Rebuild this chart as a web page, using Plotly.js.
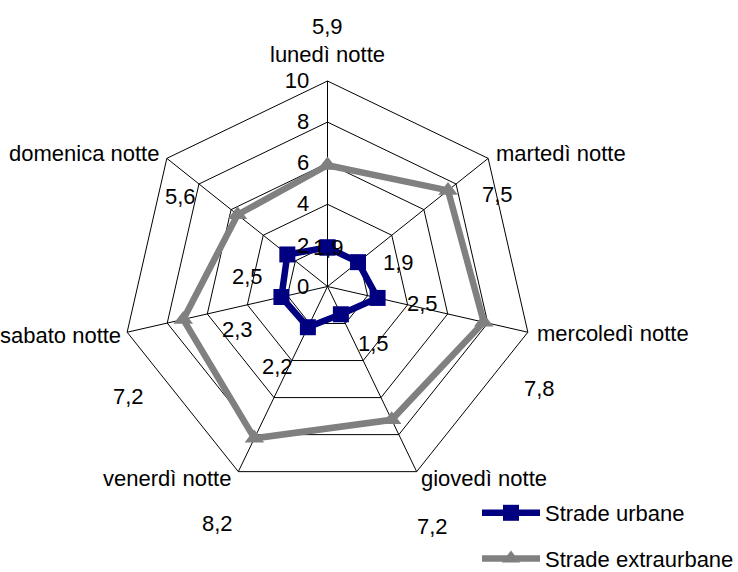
<!DOCTYPE html>
<html>
<head>
<meta charset="utf-8">
<script src="https://cdn.plot.ly/plotly-3.0.1.min.js"></script>
<style>html,body{margin:0;padding:0;background:#fff;} #chart{width:738px;height:572px;}</style>
</head>
<body>
<div id="chart"></div>
<script>
// ---- data ----
const categories = ['lunedì notte','martedì notte','mercoledì notte','giovedì notte','venerdì notte','sabato notte','domenica notte'];
const urbane = [1.9, 1.9, 2.5, 1.5, 2.2, 2.3, 2.5];
const extraurbane = [5.9, 7.5, 7.8, 7.2, 8.2, 7.2, 5.6];
const seriesNames = ['Strade urbane', 'Strade extraurbane'];
const radialTicks = [0, 2, 4, 6, 8, 10];

// ---- styles / label placement (pixels, as in the reference) ----
const W = 738, H = 572;
const urbaneLabelPx = [[328,248],[398,262],[423,303],[373,343],[277,366],[237,330],[247,276]];
const extraLabelPx  = [[327,27],[497,195],[539,388],[432,526],[217,523],[128,396],[180,197]];
// category label anchor point and horizontal anchor
const catLabelPx = [[327,55,'center'],[495,153,'left'],[536,333,'left'],[420,478,'left'],[232,478,'right'],[122,335,'right'],[160,153,'right']];
const FONT = 'Liberation Sans, Arial, sans-serif';
const FS = 22;

const close = a => a.concat([a[0]]);
const fmt = v => v.toFixed(1).replace('.', ',');

const traces = [
  {
    type: 'scatterpolar', name: seriesNames[0], legendgroup: 'a',
    r: close(urbane), theta: close(categories), mode: 'lines+markers',
    line: {color: '#000080', width: 6.5},
    marker: {symbol: 'square', size: 16, color: '#000080'}
  },
  {
    type: 'scatterpolar', name: seriesNames[1], legendgroup: 'b',
    r: close(extraurbane), theta: close(categories), mode: 'lines+markers',
    line: {color: '#808080', width: 6.5},
    marker: {symbol: 'triangle-up', size: 17, color: '#808080'}
  }
];

const annotations = [];
function addLabels(vals, px) {
  vals.forEach((v, i) => {
    annotations.push({
      xref: 'paper', yref: 'paper',
      x: px[i][0] / W, y: 1 - px[i][1] / H,
      xanchor: 'center', yanchor: 'middle',
      text: fmt(v), showarrow: false,
      font: {family: FONT, size: FS, color: '#000'}
    });
  });
}
addLabels(urbane, urbaneLabelPx);
addLabels(extraurbane, extraLabelPx);
categories.forEach((c, i) => {
  annotations.push({
    xref: 'paper', yref: 'paper',
    x: catLabelPx[i][0] / W, y: 1 - catLabelPx[i][1] / H,
    xanchor: catLabelPx[i][2], yanchor: 'middle',
    text: c, showarrow: false, borderpad: 0,
    font: {family: FONT, size: FS, color: '#000'}
  });
});

const layout = {
  width: W, height: H,
  margin: {l: 0, r: 0, t: 0, b: 0, autoexpand: false},
  paper_bgcolor: '#fff',
  font: {family: FONT, size: FS, color: '#000'},
  showlegend: true,
  legend: {
    x: 477 / W, y: 1 - 492 / H, xanchor: 'left', yanchor: 'top',
    bgcolor: 'rgba(0,0,0,0)', font: {family: FONT, size: FS, color: '#000'},
    itemwidth: 58, tracegroupgap: 14
  },
  polar: {
    domain: {x: [122 / W, 533 / W], y: [(H - 492) / H, (H - 81) / H]},
    bgcolor: '#fff',
    gridshape: 'linear',
    radialaxis: {
      range: [0, 10], tickvals: radialTicks, ticktext: radialTicks.map(String),
      angle: 90, side: 'counterclockwise', tickangle: 90,
      showline: false, ticks: 'outside', ticklen: 10, tickcolor: 'rgba(0,0,0,0)',
      gridcolor: '#000', gridwidth: 1,
      tickfont: {family: FONT, size: FS, color: '#000'}
    },
    angularaxis: {
      direction: 'clockwise', rotation: 90,
      showline: true, linecolor: '#000', linewidth: 1,
      gridcolor: '#000', gridwidth: 1, ticks: '', showticklabels: false
    }
  },
  annotations: annotations
};

Plotly.newPlot('chart', traces, layout, {displayModeBar: false, staticPlot: true});
</script>
</body>
</html>
